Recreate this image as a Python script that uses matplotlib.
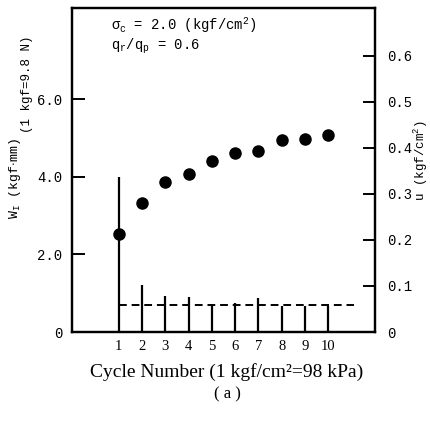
import matplotlib
matplotlib.use("Agg")
import matplotlib.pyplot as plt

# cycle numbers, energy W_I (left axis) and pore pressure u (right axis)
cycles = [1, 2, 3, 4, 5, 6, 7, 8, 9, 10]
w_i = [2.53, 3.33, 3.88, 4.07, 4.41, 4.62, 4.67, 4.95, 4.98, 5.08]
u_peak = [0.337, 0.102, 0.078, 0.076, 0.059, 0.063, 0.074, 0.057, 0.057, 0.057]
u_resid = 0.059
dash_span = [1, 11.1]

left_ticks = [0, 2.0, 4.0, 6.0]
left_labels = ['0', '2.0', '4.0', '6.0']
right_ticks = [0, 0.1, 0.2, 0.3, 0.4, 0.5, 0.6]
right_labels = ['0', '0.1', '0.2', '0.3', '0.4', '0.5', '0.6']

mono = 'Liberation Mono'
serif = 'Liberation Serif'
plt.rcParams['mathtext.fontset'] = 'custom'
plt.rcParams['mathtext.rm'] = mono
plt.rcParams['mathtext.it'] = mono

fig = plt.figure(figsize=(4.31, 4.21), dpi=100)
ax = fig.add_axes([0.167, 0.2114, 0.703, 0.770])
ax2 = ax.twinx()

ax.plot(cycles, w_i, 'o', color='black', markersize=8, zorder=5)
ax2.vlines(cycles, 0, u_peak, color='black', linewidth=1.6)
ax2.hlines(u_resid, dash_span[0], dash_span[1], color='black',
           linestyle=(0, (4, 2.5)), linewidth=1.4)

ax.set_xlim(-1, 12)
ax.set_ylim(0, 8.36)
ax2.set_ylim(0, 0.704)

ax.set_xticks(cycles)
ax.set_xticklabels([str(c) for c in cycles], fontfamily=serif, fontsize=10.5)
ax.tick_params(axis='x', length=0, pad=6)
ax.set_yticks(left_ticks)
ax.set_yticklabels(left_labels, fontfamily=mono, fontsize=10)
ax.tick_params(axis='y', direction='in', length=9, width=1.4, pad=7)
ax2.set_yticks(right_ticks)
ax2.set_yticklabels(right_labels, fontfamily=mono, fontsize=10)
ax2.tick_params(axis='y', direction='in', length=9, width=1.4, pad=9)

for a in (ax, ax2):
    for s in a.spines.values():
        s.set_linewidth(1.6)

fig.text(0.035, 1 - 178 / 421, r'W$_{\rm I}$ (kgf$\cdot$mm)', rotation=90,
         ha='center', va='center', fontfamily=mono, fontsize=9.5)
fig.text(0.062, 1 - 84 / 421, '(1 kgf=9.8 N)', rotation=90,
         ha='center', va='center', fontfamily=mono, fontsize=9)
fig.text(0.976, 1 - 161 / 421, r'u (kgf/cm$^2$)', rotation=90,
         ha='center', va='center', fontfamily=mono, fontsize=9)

ax.text(0.13, 0.945, r'$\sigma_{\rm c}$ = 2.0 (kgf/cm$^2$)', transform=ax.transAxes,
        fontfamily=mono, fontsize=10, va='center')
ax.text(0.13, 0.88, r'q$_{\rm r}$/q$_{\rm p}$ = 0.6', transform=ax.transAxes,
        fontfamily=mono, fontsize=10, va='center')

fig.text(0.525, 1 - 372 / 421, 'Cycle Number (1 kgf/cm\u00b2=98 kPa)',
         ha='center', va='center', fontfamily=serif, fontsize=14)
fig.text(0.527, 1 - 394 / 421, '( a )', ha='center', va='center',
         fontfamily=serif, fontsize=12)

fig.savefig('out.png', dpi=100)
